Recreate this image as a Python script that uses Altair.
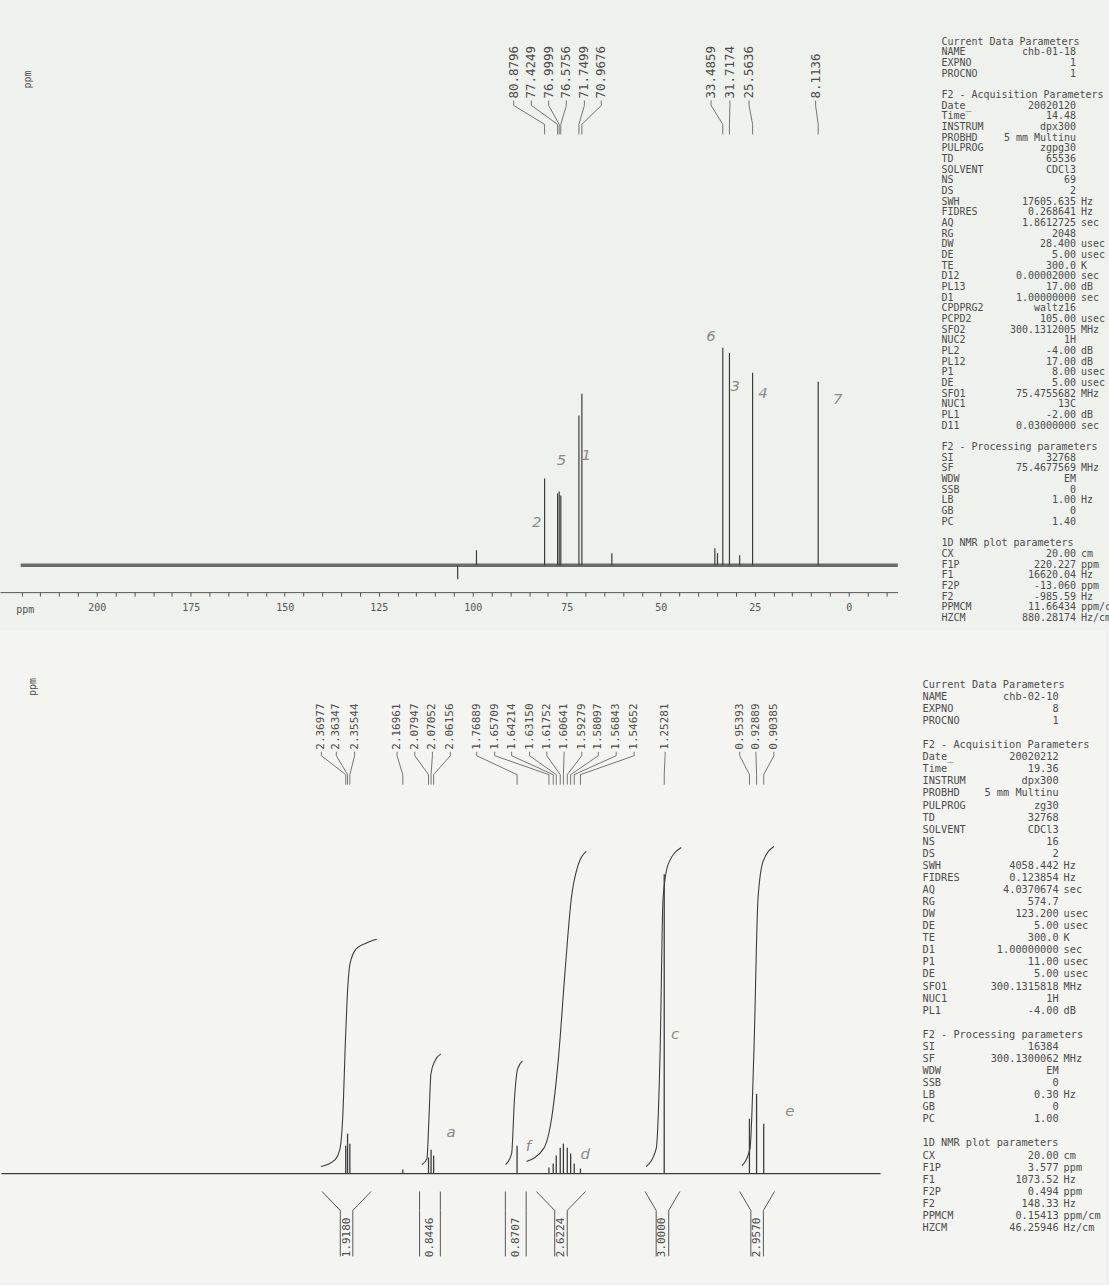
import altair as alt
import pandas as pd

# ------------------------------------------------------------------ 13C data
c13_ppm = [80.8796, 77.4249, 76.9999, 76.5756, 71.7499, 70.9676, 33.4859, 31.7174, 25.5636, 8.1136]
c13_height = [87, 72, 74, 70, 150, 172, 218, 213, 193, 184]
c13_label_slot = [89.1, 84.4, 79.8, 75.1, 70.3, 65.8, 36.6, 31.6, 26.5, 8.8]
c13_minor_ppm = [104.0, 99.0, 63.0, 35.6, 34.9, 29.0]
c13_minor_height = [-14, 15, 12, 17, 12, 10]
c13_notes = ["2", "5", "1", "6", "3", "4", "7"]
c13_notes_ppm = [83.0, 76.4, 69.8, 36.6, 30.2, 22.8, 2.9]
c13_notes_h = [43, 105, 110, 230, 180, 173, 167]
c13_range = [220.227, -13.060]
c13_ticks = list(range(220, -11, -5))

# ------------------------------------------------------------------ 1H data
h1_ppm = [2.36977, 2.36347, 2.35544, 2.16961, 2.07947, 2.07052, 2.06156, 1.76889,
          1.65709, 1.64214, 1.63150, 1.61752, 1.60641, 1.59279, 1.58097, 1.56843, 1.54652,
          1.25281, 0.95393, 0.92889, 0.90385]
h1_height = [28, 40, 30, 4, 16, 24, 18, 28,
             6, 10, 18, 26, 30, 26, 20, 10, 5,
             300, 55, 80, 50]
h1_label_slot = [2.4553, 2.4028, 2.3388, 2.1899, 2.1274, 2.0659, 2.0030, 1.9106,
                 1.8475, 1.7880, 1.7252, 1.6646, 1.6041, 1.5420, 1.4838, 1.4212, 1.3583,
                 1.2497, 0.9880, 0.9310, 0.8681]
h1_range = [3.577, 0.494]

int_values = ["1.9180", "0.8446", "0.8707", "2.6224", "3.0000", "2.9570"]
int_left = [2.453, 2.111, 1.810, 1.701, 1.320, 0.988]
int_right = [2.281, 2.038, 1.737, 1.529, 1.198, 0.866]

int_curve_ppm = [
    [2.456, 2.407, 2.390, 2.379, 2.372, 2.365, 2.355, 2.334, 2.299, 2.261],
    [2.102, 2.085, 2.078, 2.071, 2.057, 2.036],
    [1.809, 1.788, 1.778, 1.767, 1.750],
    [1.736, 1.676, 1.648, 1.624, 1.600, 1.579, 1.554, 1.526],
    [1.316, 1.281, 1.267, 1.257, 1.239, 1.193],
    [0.980, 0.952, 0.938, 0.924, 0.906, 0.868],
]
int_curve_h = [
    [7, 14, 25, 65, 125, 175, 210, 225, 231, 235],
    [9, 15, 55, 100, 113, 120],
    [9, 20, 75, 105, 113],
    [12, 25, 55, 115, 205, 275, 310, 323],
    [7, 25, 125, 275, 310, 327],
    [8, 25, 125, 275, 313, 328],
]
h1_notes = ["a", "f", "c", "d", "e"]
h1_notes_ppm = [2.000, 1.729, 1.215, 1.530, 0.812]
h1_notes_h = [42, 28, 140, 20, 63]

# ------------------------------------------------------------------ parameters
top_names = ["Current Data Parameters", "NAME", "EXPNO", "PROCNO", "",
             "F2 - Acquisition Parameters", "Date_", "Time", "INSTRUM", "PROBHD", "PULPROG",
             "TD", "SOLVENT", "NS", "DS", "SWH", "FIDRES", "AQ", "RG", "DW", "DE", "TE",
             "D12", "PL13", "D1", "CPDPRG2", "PCPD2", "SFO2", "NUC2", "PL2", "PL12", "P1",
             "DE", "SFO1", "NUC1", "PL1", "D11", "",
             "F2 - Processing parameters", "SI", "SF", "WDW", "SSB", "LB", "GB", "PC", "",
             "1D NMR plot parameters", "CX", "F1P", "F1", "F2P", "F2", "PPMCM", "HZCM"]
top_values = ["", "chb-01-18", "1", "1", "",
              "", "20020120", "14.48", "dpx300", "5 mm Multinu", "zgpg30",
              "65536", "CDCl3", "69", "2", "17605.635", "0.268641", "1.8612725", "2048",
              "28.400", "5.00", "300.0", "0.00002000", "17.00", "1.00000000", "waltz16",
              "105.00", "300.1312005", "1H", "-4.00", "17.00", "8.00", "5.00",
              "75.4755682", "13C", "-2.00", "0.03000000", "",
              "", "32768", "75.4677569", "EM", "0", "1.00", "0", "1.40", "",
              "", "20.00", "220.227", "16620.04", "-13.060", "-985.59", "11.66434", "880.28174"]
top_units = ["", "", "", "", "",
             "", "", "", "", "", "",
             "", "", "", "", "Hz", "Hz", "sec", "",
             "usec", "usec", "K", "sec", "dB", "sec", "",
             "usec", "MHz", "", "dB", "dB", "usec", "usec",
             "MHz", "", "dB", "sec", "",
             "", "", "MHz", "", "", "Hz", "", "", "",
             "", "cm", "ppm", "Hz", "ppm", "Hz", "ppm/cm", "Hz/cm"]

bot_names = ["Current Data Parameters", "NAME", "EXPNO", "PROCNO", "",
             "F2 - Acquisition Parameters", "Date_", "Time", "INSTRUM", "PROBHD", "PULPROG",
             "TD", "SOLVENT", "NS", "DS", "SWH", "FIDRES", "AQ", "RG", "DW", "DE", "TE",
             "D1", "P1", "DE", "SFO1", "NUC1", "PL1", "",
             "F2 - Processing parameters", "SI", "SF", "WDW", "SSB", "LB", "GB", "PC", "",
             "1D NMR plot parameters", "CX", "F1P", "F1", "F2P", "F2", "PPMCM", "HZCM"]
bot_values = ["", "chb-02-10", "8", "1", "",
              "", "20020212", "19.36", "dpx300", "5 mm Multinu", "zg30",
              "32768", "CDCl3", "16", "2", "4058.442", "0.123854", "4.0370674", "574.7",
              "123.200", "5.00", "300.0", "1.00000000", "11.00", "5.00", "300.1315818",
              "1H", "-4.00", "",
              "", "16384", "300.1300062", "EM", "0", "0.30", "0", "1.00", "",
              "", "20.00", "3.577", "1073.52", "0.494", "148.33", "0.15413", "46.25946"]
bot_units = ["", "", "", "", "",
             "", "", "", "", "", "",
             "", "", "", "", "Hz", "Hz", "sec", "",
             "usec", "usec", "K", "sec", "usec", "usec", "MHz",
             "", "dB", "",
             "", "", "MHz", "", "", "Hz", "", "", "",
             "", "cm", "ppm", "Hz", "ppm", "Hz", "ppm/cm", "Hz/cm"]

INK = "#3c3c3c"
TXT = "#4c4c4c"
TOP_BG = "#eef1ec"
BOT_BG = "#f4f5f1"


def param_panel(names, values, units, x0, row0, row_h, char_w, fsize, width, height, fill):
    n = len(names)
    df = pd.DataFrame({"row": list(range(n)), "name": names, "val": values, "unit": units})
    xdom = [-x0 / char_w, (width - x0) / char_w]
    ydom = [-row0 / row_h, (height - row0) / row_h]
    xs = alt.Scale(domain=xdom, nice=False, zero=False)
    ys = alt.Scale(domain=ydom, nice=False, zero=False, reverse=True)
    base = alt.Chart(df)
    common = dict(baseline="middle", font="DejaVu Sans Mono", fontSize=fsize, color=TXT, clip=True)
    names_l = base.mark_text(align="left", **common).encode(
        x=alt.X("c:Q", scale=xs, axis=None), y=alt.Y("row:Q", scale=ys, axis=None),
        text="name:N").transform_calculate(c="0")
    vals_l = base.mark_text(align="right", **common).encode(
        x=alt.X("c:Q", scale=xs, axis=None), y=alt.Y("row:Q", scale=ys, axis=None),
        text="val:N").transform_calculate(c="22.2")
    units_l = base.mark_text(align="left", **common).encode(
        x=alt.X("c:Q", scale=xs, axis=None), y=alt.Y("row:Q", scale=ys, axis=None),
        text="unit:N").transform_calculate(c="23.0")
    return alt.layer(names_l, vals_l, units_l).properties(
        width=width, height=height, view=alt.ViewBackground(fill=fill, stroke=None))


def leader_df(slots, peaks, yb, y1, y2, y3):
    rows = []
    for i, (s, p) in enumerate(zip(slots, peaks)):
        for k, (xx, yy) in enumerate([(s, yb), (s, y1), (p, y2), (p, y3)]):
            rows.append({"id": i, "o": k, "x": xx, "y": yy})
    return pd.DataFrame(rows)


# ------------------------------------------------------------------ top spectrum
W_SPEC = 900
TOP_H = 592
xs_t = alt.Scale(domain=[-13.0, 225.73], reverse=True, nice=False, zero=False)
ys_t = alt.Scale(domain=[-27, 565], nice=False, zero=False)
AX_T = alt.Axis(values=c13_ticks, format="d",
                labelExpr="datum.value % 25 == 0 ? datum.label : ''",
                labelOverlap=False, labelFlush=False, labelBound=False,
                tickSize=4, tickColor="#555", domainColor="#555", labelColor="#555",
                labelFont="DejaVu Sans Mono", labelFontSize=10, labelPadding=6,
                grid=False, title=None)


def xt(field):
    return alt.X(field, scale=xs_t, axis=AX_T)


def yt(field):
    return alt.Y(field, scale=ys_t, axis=None)


base_t = pd.DataFrame({"x0": [c13_range[0]], "x1": [c13_range[1]], "y": [0]})
baseline_t = alt.Chart(base_t).mark_rule(color="#555555", strokeWidth=3.6, opacity=0.85).encode(
    x=xt("x0:Q"), x2="x1:Q", y=yt("y:Q"))

pk_t = pd.DataFrame({"x": c13_ppm + c13_minor_ppm, "h": c13_height + c13_minor_height,
                     "z": [0] * (len(c13_ppm) + len(c13_minor_ppm))})
peaks_t = alt.Chart(pk_t).mark_rule(color=INK, strokeWidth=1.2).encode(
    x=xt("x:Q"), y=yt("z:Q"), y2="h:Q")

lab_t = pd.DataFrame({"x": c13_label_slot, "y": [468] * len(c13_ppm),
                      "t": [f"{v:.4f}" for v in c13_ppm]})
labels_t = alt.Chart(lab_t).mark_text(angle=270, align="left", baseline="middle",
                                      font="DejaVu Sans Mono", fontSize=12.5, color=TXT).encode(
    x=xt("x:Q"), y=yt("y:Q"), text="t:N")

lead_t = alt.Chart(leader_df(c13_label_slot, c13_ppm, 466, 461, 442, 432)).mark_line(
    color="#666", strokeWidth=0.9).encode(
    x=xt("x:Q"), y=yt("y:Q"), detail="id:N", order="o:Q")

notes_t = alt.Chart(pd.DataFrame({"x": c13_notes_ppm, "y": c13_notes_h, "t": c13_notes})).mark_text(
    font="DejaVu Sans", fontSize=15, fontStyle="italic", color="#8a8a8a", fontWeight=300).encode(
    x=xt("x:Q"), y=yt("y:Q"), text="t:N")

ppm_t = alt.Chart(pd.DataFrame({"x": [219.0, 218.3], "y": [-45, 487], "t": ["ppm", "ppm"],
                                "a": [0, 270]})).mark_text(
    font="DejaVu Sans Mono", fontSize=10, color="#555").encode(
    x=xt("x:Q"), y=yt("y:Q"), text="t:N", angle=alt.Angle("a:Q", scale=None))

top_spec = alt.layer(baseline_t, peaks_t, lead_t, labels_t, notes_t, ppm_t).properties(
    width=W_SPEC, height=TOP_H, view=alt.ViewBackground(fill=TOP_BG, stroke=None))

top_par = param_panel(top_names, top_values, top_units, 41, 40, 10.7, 6.08, 10, 209, 630, TOP_BG)

# ------------------------------------------------------------------ bottom spectrum
BOT_H = 655
xs_b = alt.Scale(domain=[0.4344, 3.5824], reverse=True, nice=False, zero=False)
ys_b = alt.Scale(domain=[-110, 545], nice=False, zero=False)


def xb(field):
    return alt.X(field, scale=xs_b, axis=None)


def yb(field):
    return alt.Y(field, scale=ys_b, axis=None)


base_b = pd.DataFrame({"x0": [h1_range[0]], "x1": [h1_range[1]], "y": [0]})
baseline_b = alt.Chart(base_b).mark_rule(color=INK, strokeWidth=1.3).encode(
    x=xb("x0:Q"), x2="x1:Q", y=yb("y:Q"))

pk_b = pd.DataFrame({"x": h1_ppm, "h": h1_height, "z": [0] * len(h1_ppm)})
peaks_b = alt.Chart(pk_b).mark_rule(color=INK, strokeWidth=1.3).encode(
    x=xb("x:Q"), y=yb("z:Q"), y2="h:Q")

lab_b = pd.DataFrame({"x": h1_label_slot, "y": [425] * len(h1_ppm),
                      "t": [f"{v:.5f}" for v in h1_ppm]})
labels_b = alt.Chart(lab_b).mark_text(angle=270, align="left", baseline="middle",
                                      font="DejaVu Sans Mono", fontSize=11, color=TXT).encode(
    x=xb("x:Q"), y=yb("y:Q"), text="t:N")

lead_b = alt.Chart(leader_df(h1_label_slot, h1_ppm, 423, 419, 400, 390)).mark_line(
    color="#666", strokeWidth=0.9).encode(
    x=xb("x:Q"), y=yb("y:Q"), detail="id:N", order="o:Q")

crv_rows = []
for i, (cx, cy) in enumerate(zip(int_curve_ppm, int_curve_h)):
    for k, (a, b) in enumerate(zip(cx, cy)):
        crv_rows.append({"id": i, "o": k, "x": a, "y": b})
curves_b = alt.Chart(pd.DataFrame(crv_rows)).mark_line(
    color=INK, strokeWidth=1.1, interpolate="monotone").encode(
    x=xb("x:Q"), y=yb("y:Q"), detail="id:N", order="o:Q")

br_rows = []
for i, (lo, hi) in enumerate(zip(int_left, int_right)):
    c = (lo + hi) / 2
    half = (lo - hi) / 2
    inner = half if half < 0.04 else 0.022
    pts_l = [(lo, -18), (c + inner, -37), (c + inner, -83)]
    pts_r = [(hi, -18), (c - inner, -37), (c - inner, -83)]
    for side, pts in (("l", pts_l), ("r", pts_r)):
        for k, (a, b) in enumerate(pts):
            br_rows.append({"id": f"{i}{side}", "o": k, "x": a, "y": b})
brackets_b = alt.Chart(pd.DataFrame(br_rows)).mark_line(color="#555", strokeWidth=1.0).encode(
    x=xb("x:Q"), y=yb("y:Q"), detail="id:N", order="o:Q")

ilab = pd.DataFrame({"x": [(a + b) / 2 for a, b in zip(int_left, int_right)],
                     "y": [-64] * len(int_values), "t": int_values})
ilabels_b = alt.Chart(ilab).mark_text(angle=270, align="center", baseline="middle",
                                      font="DejaVu Sans Mono", fontSize=11, color=TXT).encode(
    x=xb("x:Q"), y=yb("y:Q"), text="t:N")

notes_b = alt.Chart(pd.DataFrame({"x": h1_notes_ppm, "y": h1_notes_h, "t": h1_notes})).mark_text(
    font="DejaVu Sans", fontSize=15, fontStyle="italic", color="#8a8a8a", fontWeight=300).encode(
    x=xb("x:Q"), y=yb("y:Q"), text="t:N")

ppm_b = alt.Chart(pd.DataFrame({"x": [3.468], "y": [488], "t": ["ppm"]})).mark_text(
    font="DejaVu Sans Mono", fontSize=10, color="#555", angle=270).encode(
    x=xb("x:Q"), y=yb("y:Q"), text="t:N")

bot_spec = alt.layer(baseline_b, curves_b, peaks_b, lead_b, labels_b, brackets_b, ilabels_b,
                     notes_b, ppm_b).properties(
    width=W_SPEC, height=BOT_H, view=alt.ViewBackground(fill=BOT_BG, stroke=None))

bot_par = param_panel(bot_names, bot_values, bot_units, 25, 55, 12.1, 6.15, 10.3, 209, BOT_H, BOT_BG)

top_row = alt.hconcat(top_spec, top_par, spacing=0)
bot_row = alt.hconcat(bot_spec, bot_par, spacing=0)

chart = alt.vconcat(top_row, bot_row, spacing=0).properties(padding=0).configure(
    background=TOP_BG).configure_view(stroke=None)

chart.save("out.html", embed_options={"renderer": "svg", "actions": False})
